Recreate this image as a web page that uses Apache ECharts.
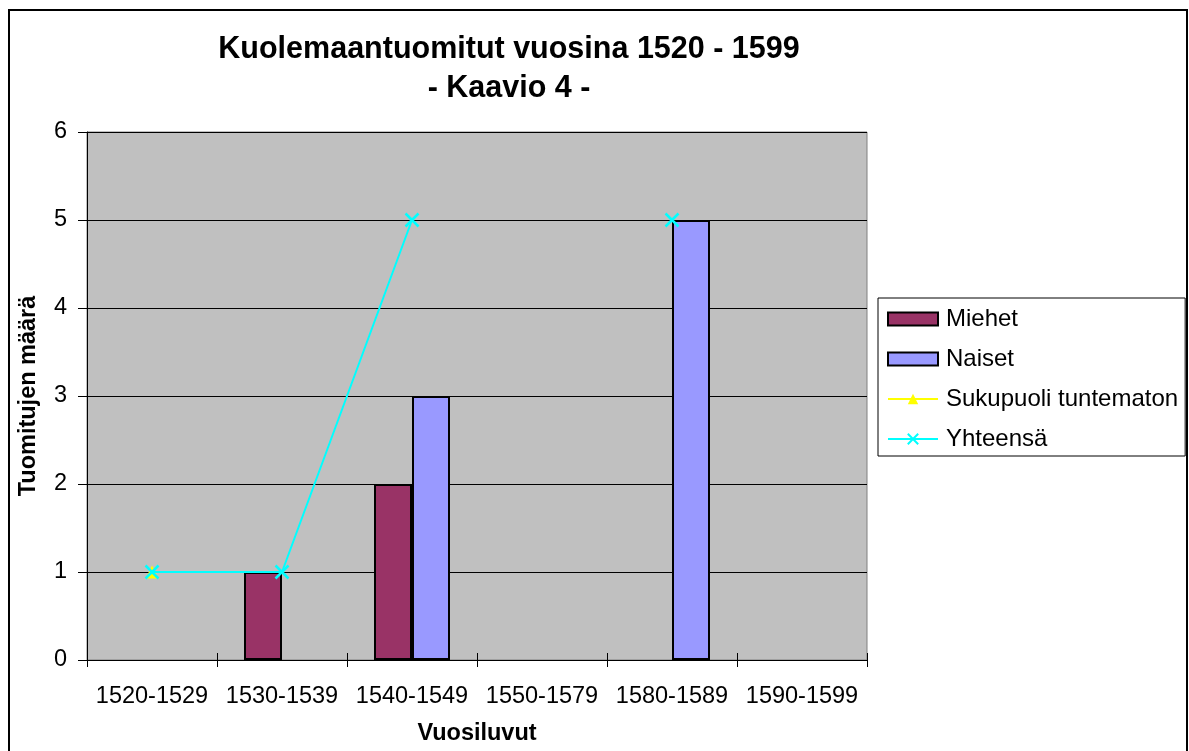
<!DOCTYPE html>
<html>
<head>
<meta charset="utf-8">
<script src="https://cdn.jsdelivr.net/npm/echarts@6/dist/echarts.min.js"></script>
<style>
html,body{margin:0;padding:0;background:#fff;}
#chart{width:1189px;height:751px;}
</style>
</head>
<body>
<div id="chart"></div>
<script>
const categories = ['1520-1529','1530-1539','1540-1549','1550-1579','1580-1589','1590-1599'];
const miehet = [null, 1, 2, null, null, null];
const naiset = [null, null, 3, null, 5, null];
const tuntematon = [1, null, null, null, null, null];
const yhteensa = [1, 1, 5, null, 5, null];
const yTicks = [0, 6, 1];

const FONT = "'Liberation Sans', Arial, sans-serif";
const chart = echarts.init(document.getElementById('chart'), null, {renderer:'canvas'});
chart.setOption({
  animation: false,
  backgroundColor: '#ffffff',
  textStyle: {fontFamily: FONT},
  graphic: [
    {type:'rect', shape:{x:9, y:10, width:1178, height:800}, style:{fill:'none', stroke:'#000', lineWidth:2}, z:0, silent:true},
    {type:'text', x:509, y:50, style:{text:'Kuolemaantuomitut vuosina 1520 - 1599', font:"bold 30.5px 'Liberation Sans', Arial", fill:'#000', textAlign:'center', textVerticalAlign:'middle'}},
    {type:'text', x:509, y:89, style:{text:'- Kaavio 4 -', font:"bold 30.5px 'Liberation Sans', Arial", fill:'#000', textAlign:'center', textVerticalAlign:'middle'}}
  ],
  grid: {left:87, top:132, width:780, bottom:90, show:true, backgroundColor:'#C0C0C0', borderColor:'#808080', borderWidth:1},
  legend: {
    orient:'vertical', left:878, top:298,
    padding:[8, 7, 4, 9],
    itemGap:14, itemWidth:50, itemHeight:13,
    backgroundColor:'#fff', borderColor:'#000', borderWidth:1,
    textStyle:{fontFamily:FONT, fontSize:24, color:'#000', lineHeight:26, padding:[0,0,0,3]},
    data:[{name:'Miehet', icon:'rect'},{name:'Naiset', icon:'rect'},'Sukupuoli tuntematon','Yhteensä']
  },
  xAxis: [{
    type:'category', data:categories, position:'bottom',
    axisLine:{lineStyle:{color:'#000', width:1}},
    axisTick:{show:true, alignWithLabel:false, length:7, lineStyle:{color:'#000'}},
    axisLabel:{fontFamily:FONT, fontSize:23.5, color:'#000', margin:25, interval:0},
    name:'Vuosiluvut', nameLocation:'middle', nameGap:62,
    nameTextStyle:{fontFamily:FONT, fontSize:23.5, fontWeight:'bold', color:'#000'}
  },{
    type:'category', data:categories, position:'bottom',
    axisLine:{show:false},
    axisTick:{show:true, inside:true, length:7, lineStyle:{color:'#000'}},
    axisLabel:{show:false}
  }],
  yAxis: {
    type:'value', min:yTicks[0], max:yTicks[1], interval:yTicks[2],
    axisLine:{show:true, lineStyle:{color:'#000', width:1}},
    axisTick:{show:true, length:9, lineStyle:{color:'#000'}},
    axisLabel:{fontFamily:FONT, fontSize:23.5, color:'#000', margin:20},
    splitLine:{show:true, lineStyle:{color:'#000', width:1}},
    name:'Tuomitujen määrä', nameLocation:'middle', nameGap:46,
    nameTextStyle:{fontFamily:FONT, fontSize:23.5, fontWeight:'bold', color:'#000'}
  },
  series: [
    {name:'Miehet', type:'bar', data:miehet, barWidth:38, barGap:'0%',
     itemStyle:{color:'#993366', borderColor:'#000', borderWidth:2}},
    {name:'Naiset', type:'bar', data:naiset, barWidth:38, barGap:'0%',
     itemStyle:{color:'#9999FF', borderColor:'#000', borderWidth:2}},
    {name:'Sukupuoli tuntematon', type:'line', data:tuntematon, z:3,
     symbol:'triangle', symbolSize:13, showSymbol:true,
     lineStyle:{color:'#FFFF00', width:2},
     itemStyle:{color:'#FFFF00', borderColor:'#FFFF00', borderWidth:0}},
    {name:'Yhteensä', type:'line', data:yhteensa, z:4,
     symbol:'path://M0,0L10,10M10,0L0,10', symbolSize:13, showSymbol:true, connectNulls:false,
     lineStyle:{color:'#00FFFF', width:2},
     itemStyle:{color:'#00FFFF', borderColor:'#00FFFF', borderWidth:2.5}}
  ]
});
</script>
</body>
</html>
